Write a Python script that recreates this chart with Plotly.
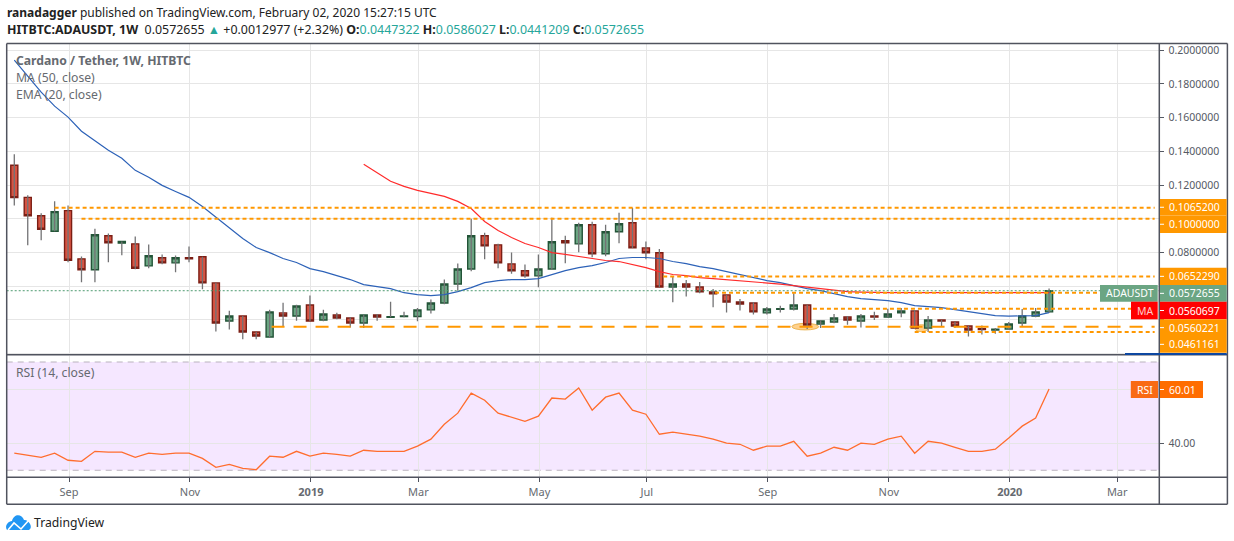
import pandas as pd
import plotly.graph_objects as go
from plotly.subplots import make_subplots

# weekly candles
start_week = '2018-08-06'
opens = [.1317, .1127, .1018, .0926, .1048, .0762, .0697, .0899, .0855, .0851, .0720, .0768, .0738, .0768, .0774, .0619, .0393, .0423, .0328, .0298,
         .0441, .0423, .0488, .0399, .0429, .0411, .0381, .0429, .0415, .0419, .0420, .0459, .0500, .0613, .0702, .0899, .0845, .0732, .0691, .0661,
         .0702, .0869, .0851, .0964, .0792, .0923, .0976, .0827, .0798, .0595, .0613, .0595, .0566, .0548, .0506, .0500, .0441, .0462, .0464, .0488,
         .0375, .0387, .0417, .0393, .0423, .0417, .0441, .0453, .0351, .0399, .0387, .0363, .0347, .0340, .0345, .0381, .0423, .0447322]
highs = [.1383, .1139, .1032, .1103, .1079, .0776, .0940, .0913, .0865, .0895, .0847, .0788, .0782, .0835, .0774, .0619, .0454, .0423, .0328, .0460,
         .0502, .0490, .0544, .0460, .0442, .0415, .0429, .0435, .0508, .0448, .0470, .0520, .0639, .0734, .1000, .0917, .0851, .0799, .0728, .0788,
         .1006, .0899, .0976, .0982, .0964, .1036, .1065, .0865, .0821, .0655, .0637, .0625, .0583, .0548, .0524, .0506, .0476, .0484, .0557, .0490,
         .0399, .0435, .0423, .0435, .0448, .0466, .0470, .0459, .0423, .0399, .0387, .0363, .0367, .0351, .0387, .0464, .0470, .0586027]
lows = [.1079, .0843, .0873, .0926, .0742, .0623, .0623, .0742, .0783, .0700, .0706, .0730, .0682, .0742, .0581, .0331, .0343, .0284, .0284, .0298,
        .0359, .0395, .0393, .0391, .0403, .0355, .0351, .0395, .0415, .0415, .0391, .0438, .0492, .0573, .0688, .0760, .0706, .0673, .0649, .0593,
        .0697, .0736, .0801, .0772, .0777, .0855, .0827, .0760, .0595, .0504, .0539, .0557, .0474, .0444, .0456, .0432, .0432, .0444, .0456, .0345,
        .0351, .0379, .0371, .0355, .0399, .0417, .0415, .0345, .0328, .0361, .0351, .0301, .0313, .0318, .0340, .0359, .0415, .0441209]
closes = [.1125, .1018, .0938, .1042, .0754, .0697, .0905, .0857, .0865, .0706, .0780, .0738, .0768, .0762, .0619, .0381, .0423, .0328, .0304, .0447,
          .0423, .0482, .0393, .0435, .0411, .0381, .0429, .0417, .0419, .0423, .0459, .0500, .0613, .0702, .0899, .0839, .0738, .0691, .0661, .0702,
          .0863, .0857, .0964, .0792, .0923, .0970, .0827, .0798, .0595, .0613, .0595, .0566, .0554, .0506, .0494, .0447, .0464, .0466, .0488, .0369,
          .0393, .0411, .0399, .0423, .0417, .0435, .0453, .0351, .0399, .0393, .0363, .0340, .0343, .0345, .0375, .0423, .0447, .0572655]

blue_line = [.1942, .1847, .1751, .1668, .1603, .1519, .1460, .1406, .1359, .1287, .1246, .1198, .1162, .1127, .1073, .1008, .0948, .0883, .0829, .0799,
             .0764, .0740, .0704, .0686, .0662, .0639, .0609, .0597, .0585, .0561, .0550, .0544, .0550, .0567, .0591, .0621, .0633, .0639, .0639, .0645,
             .0669, .0692, .0710, .0722, .0740, .0764, .0770, .0770, .0764, .0746, .0734, .0716, .0704, .0686, .0669, .0651, .0633, .0621, .0603, .0585,
             .0573, .0556, .0538, .0526, .0520, .0514, .0502, .0484, .0478, .0472, .0460, .0448, .0436, .0425, .0422, .0422, .0425, .0443]
# red line only starts at week 26
red_start = 26
red_line = [.1323, .1275, .1222, .1192, .1168, .1151, .1133, .1103, .1061, .0984, .0930, .0889, .0853, .0829, .0799, .0788, .0776, .0764, .0752, .0746,
            .0728, .0710, .0686, .0669, .0662, .0651, .0645, .0639, .0633, .0627, .0621, .0612, .0603, .0594, .0585, .0576, .0567, .0564, .0561, .0561,
            .0561, .0561, .0561, .0561, .0561, .0561, .0561, .0561, .0561, .0561, .0561, .0561]

rsi = [36.3, 35.6, 34.8, 36.3, 33.7, 33.3, 37.0, 36.7, 36.7, 34.8, 36.3, 35.9, 36.3, 36.3, 34.4, 31.1, 32.2, 30.7, 30.2, 35.2,
       34.8, 37.0, 35.2, 36.3, 35.9, 35.2, 37.4, 37.0, 37.0, 37.0, 38.9, 41.5, 47.0, 51.1, 58.5, 55.9, 51.1, 49.6, 48.1, 50.0,
       56.7, 56.3, 60.4, 52.2, 57.0, 58.5, 52.2, 50.7, 43.3, 44.1, 43.3, 42.6, 41.5, 40.0, 39.6, 37.4, 38.9, 38.9, 40.7, 35.2,
       36.3, 38.5, 37.4, 40.0, 39.6, 41.5, 42.6, 36.3, 40.7, 40.0, 38.5, 37.0, 37.0, 37.8, 41.9, 46.3, 49.3, 60.01]

price_ticks = [.02, .04, .06, .08, .10, .12, .14, .16, .18, .20]
price_tick_text = ['', '', '', '0.0800000', '', '0.1200000', '0.1400000', '0.1600000', '0.1800000', '0.2000000']
# grid sits half a day right of the candles
time_ticks = ['2018-09-03 12:00', '2018-11-05 12:00', '2019-01-07 12:00', '2019-03-04 12:00', '2019-05-06 12:00',
              '2019-07-01 12:00', '2019-09-02 12:00', '2019-11-04 12:00', '2020-01-06 12:00', '2020-03-02 12:00']
time_labels = ['Sep', 'Nov', '<b>2019</b>', 'Mar', 'May', 'Jul', 'Sep', 'Nov', '<b>2020</b>', 'Mar']

# hand drawn levels: price, first week, dash
level_prices = [.1065, .1000, .0657, .0561, .0465, .0359, .0328]
level_starts = ['2018-08-27', '2018-09-10', '2019-07-10', '2019-08-06', '2019-09-26', '2018-12-18', '2019-11-18']
level_dashes = ['4px,3px', '4px,3px', '4px,3px', '4px,3px', '4px,3px', '13px,9px', '4px,3px']

TEXT = '#555a64'
FRAME = '#50535e'
ORANGE = '#ff9800'
GREEN = '#6ba583'
FONT = 'Noto Sans'
AXIS_X = 1159.3
RIGHT_X = 1227.4


def px(x):
    return x / 1234


def py(y):
    return 1 - y / 541


dates = pd.date_range(start_week, periods=len(closes), freq='7D')
x_range = ['2018-08-02 01:00', '2020-03-24 10:00']

fig = make_subplots(rows=2, cols=1, shared_xaxes=True)

# wicks are grey, so they get their own trace under the bodies
wick_x, wick_y = [], []
for d, lo, hi in zip(dates, lows, highs):
    wick_x += [d, d, None]
    wick_y += [lo, hi, None]
fig.add_trace(go.Scatter(x=wick_x, y=wick_y, mode='lines', line=dict(color='#737375', width=1.3), hoverinfo='skip'), row=1, col=1)

fig.add_trace(go.Candlestick(x=dates,
                             open=opens,
                             close=closes,
                             high=[max(o, c) for o, c in zip(opens, closes)],
                             low=[min(o, c) for o, c in zip(opens, closes)],
                             whiskerwidth=0,
                             increasing=dict(fillcolor=GREEN, line=dict(color='#225437', width=1.4)),
                             decreasing=dict(fillcolor='#d65342', line=dict(color='#7b1e14', width=1.4))),
              row=1, col=1)

fig.add_trace(go.Scatter(x=dates, y=blue_line, mode='lines', line=dict(color='#2d62b8', width=1.2)), row=1, col=1)
fig.add_trace(go.Scatter(x=dates[red_start:], y=red_line, mode='lines', line=dict(color='#ff2b2b', width=1.2)), row=1, col=1)
fig.add_trace(go.Scatter(x=dates, y=rsi, mode='lines', line=dict(color='#ff6d2e', width=1.3)), row=2, col=1)

# levels
for price, first, dash in zip(level_prices, level_starts, level_dashes):
    fig.add_shape(type='line', xref='x', yref='y', x0=first, x1='2020-03-22', y0=price, y1=price,
                  line=dict(color=ORANGE, width=2, dash=dash), layer='above')
fig.add_shape(type='line', xref='x', yref='y', x0=x_range[0], x1=x_range[1], y0=closes[-1], y1=closes[-1],
              line=dict(color='#4d9a70', width=1, dash='2px,2px'), layer='above')

# circled lows
fig.add_shape(type='circle', xref='x', yref='y', x0='2019-09-15', x1='2019-09-29', y0=.0340, y1=.0379,
              fillcolor='rgba(255,152,0,0.45)', line=dict(color='rgba(230,170,60,0.8)', width=1), layer='below')
fig.add_shape(type='circle', xref='x', yref='y', x0='2019-11-18', x1='2019-11-25', y0=.0330, y1=.0371,
              fillcolor='rgba(255,152,0,0.45)', line=dict(color='rgba(230,170,60,0.8)', width=1), layer='below')

# RSI band
fig.add_shape(type='rect', xref='x2', yref='y2', x0=x_range[0], x1=x_range[1], y0=30, y1=70,
              fillcolor='rgba(153,21,255,0.1)', line=dict(width=0), layer='below')
for level in [30, 70]:
    fig.add_shape(type='line', xref='x2', yref='y2', x0=x_range[0], x1=x_range[1], y0=level, y1=level,
                  line=dict(color='#b9b2bd', width=1, dash='6px,5px'), layer='below')

# frame
for x0, y0, x1, y1 in [(6.7, 43.5, RIGHT_X, 43.5), (6.7, 354.7, RIGHT_X, 354.7), (6.7, 477.3, RIGHT_X, 477.3), (6.7, 504.3, RIGHT_X, 504.3),
                       (6.7, 43.5, 6.7, 504.3), (AXIS_X, 43.5, AXIS_X, 504.3), (RIGHT_X, 43.5, RIGHT_X, 504.3)]:
    fig.add_shape(type='line', xref='paper', yref='paper', x0=px(x0), x1=px(x1), y0=py(y0), y1=py(y1),
                  line=dict(color=FRAME, width=1.5), layer='above')


def tag(text, x0, x1, y0, y1, color, text_color='white', tick=False):
    fig.add_shape(type='rect', xref='paper', yref='paper', x0=px(x0), x1=px(x1), y0=py(y0), y1=py(y1),
                  fillcolor=color, line=dict(width=0), layer='above')
    fig.add_annotation(xref='paper', yref='paper', x=px((x0 + x1) / 2 + 1), y=py((y0 + y1) / 2), text=text, showarrow=False,
                       font=dict(family=FONT, size=10.5, color=text_color), xanchor='center', yanchor='middle')
    if tick:
        mid = py((y0 + y1) / 2)
        fig.add_shape(type='line', xref='paper', yref='paper', x0=px(x0), x1=px(x0 + 4), y0=mid, y1=mid,
                      line=dict(color='white', width=1), layer='above')


# right hand price tags
tag('0.1065200', 1160, 1226.7, 199, 215.5, ORANGE, tick=True)
tag('0.1000000', 1160, 1226.7, 215.5, 233, ORANGE, tick=True)
tag('0.0652290', 1160, 1226.7, 267.7, 285, ORANGE, tick=True)
tag('0.0572655', 1160, 1226.7, 285, 301.7, GREEN, tick=True)
tag('0.0560697', 1160, 1226.7, 301.7, 319.3, '#ff0000', tick=True)
tag('0.0560221', 1160, 1226.7, 319.3, 336, ORANGE, tick=True)
tag('0.0461161', 1160, 1226.7, 336, 352.7, ORANGE, tick=True)
tag('ADAUSDT', 1100, 1157.7, 285, 301.7, GREEN)
tag('MA', 1131, 1157.7, 301.7, 319.3, '#ff0000', '#ffc9c9')
tag('RSI', 1130.8, 1158, 381, 398, '#f96a14')
tag('60.01', 1160, 1203, 381, 398, '#ff6d00', tick=True)
fig.add_shape(type='rect', xref='paper', yref='paper', x0=px(1125), x1=px(1226.7), y0=py(353), y1=py(355),
              fillcolor='#0d47a1', line=dict(width=0), layer='above')


def label(text, x, y, size=12.2, color=TEXT):
    fig.add_annotation(xref='paper', yref='paper', x=px(x), y=py(y), text=text, showarrow=False,
                       font=dict(family=FONT, size=size, color=color), xanchor='left', yanchor='middle')


label('<b>ranadagger</b> published on TradingView.com, February 02, 2020 15:27:15 UTC', 5, 12.5, size=12, color='#222222')
label('<b>HITBTC:ADAUSDT, 1W</b>  0.0572655 <span style="color:#26a69a">▲</span> +0.0012977 (+2.32%) '
      '<b>O:</b><span style="color:#26a69a">0.0447322</span> <b>H:</b><span style="color:#26a69a">0.0586027</span> '
      '<b>L:</b><span style="color:#26a69a">0.0441209</span> <b>C:</b><span style="color:#26a69a">0.0572655</span>', 5, 29.5, size=12.4, color='#222222')
label('<b>Cardano / Tether, 1W, HITBTC</b>', 13.5, 60.5, color='#666a70')
label('MA (50, close)', 13.5, 77.5, color='#666a70')
label('EMA (20, close)', 13.5, 94.5, color='#666a70')
label('RSI (14, close)', 13.5, 372.5, color='#666a70')
label('TradingView', 32, 522.5, color='#222222')

# logo
fig.add_shape(type='path', xref='paper', yref='paper', fillcolor='#2196f3', line=dict(width=0), layer='above',
              path='M {} {} C {} {} {} {} {} {} C {} {} {} {} {} {} C {} {} {} {} {} {} Z'.format(
                  px(7), py(530), px(4), py(525), px(9), py(521), px(12), py(521),
                  px(14), py(513), px(22), py(514), px(24), py(520),
                  px(28), py(519), px(34), py(527), px(29), py(530)))
fig.add_shape(type='path', xref='paper', yref='paper', line=dict(color='white', width=1.6), layer='above',
              path='M {} {} L {} {} L {} {} L {} {}'.format(px(8), py(530), px(14), py(523), px(21), py(529), px(29), py(520)))

fig.update_layout(width=1234,
                  height=541,
                  margin=dict(l=0, r=0, t=0, b=0),
                  paper_bgcolor='white',
                  plot_bgcolor='white',
                  showlegend=False,
                  boxgap=0.25,
                  font=dict(family=FONT, size=10.5, color=TEXT))

fig.update_xaxes(range=x_range, tickvals=time_ticks, ticktext=time_labels, showgrid=True, gridcolor='#e6e6e6', gridwidth=1.3,
                 rangeslider_visible=False, zeroline=False, showline=False)
fig.update_xaxes(domain=[px(6.7), px(AXIS_X)], showticklabels=False, row=1, col=1)
fig.update_xaxes(domain=[px(6.7), px(AXIS_X)], ticks='outside', ticklen=4, tickcolor=FRAME, tickfont=dict(size=11, color='#666a70'), row=2, col=1)

fig.update_yaxes(side='right', zeroline=False, showline=False, gridcolor='#e6e6e6', gridwidth=1.3, ticks='outside', ticklen=4, tickcolor=TEXT, ticklabelstandoff=2)
fig.update_yaxes(domain=[py(354.7), py(43.5)], range=[.0193, .2040], tickvals=price_ticks, ticktext=price_tick_text, row=1, col=1)
fig.update_yaxes(domain=[py(477.3), py(355.5)], range=[27.4, 72.4], tickvals=[40, 60], ticktext=['40.00', ''], row=2, col=1)

# page margin off so the picture starts in the corner, no plotly toolbar
fig.write_html("out.html", config={'displayModeBar': False}, post_script="document.body.style.margin='0';")
